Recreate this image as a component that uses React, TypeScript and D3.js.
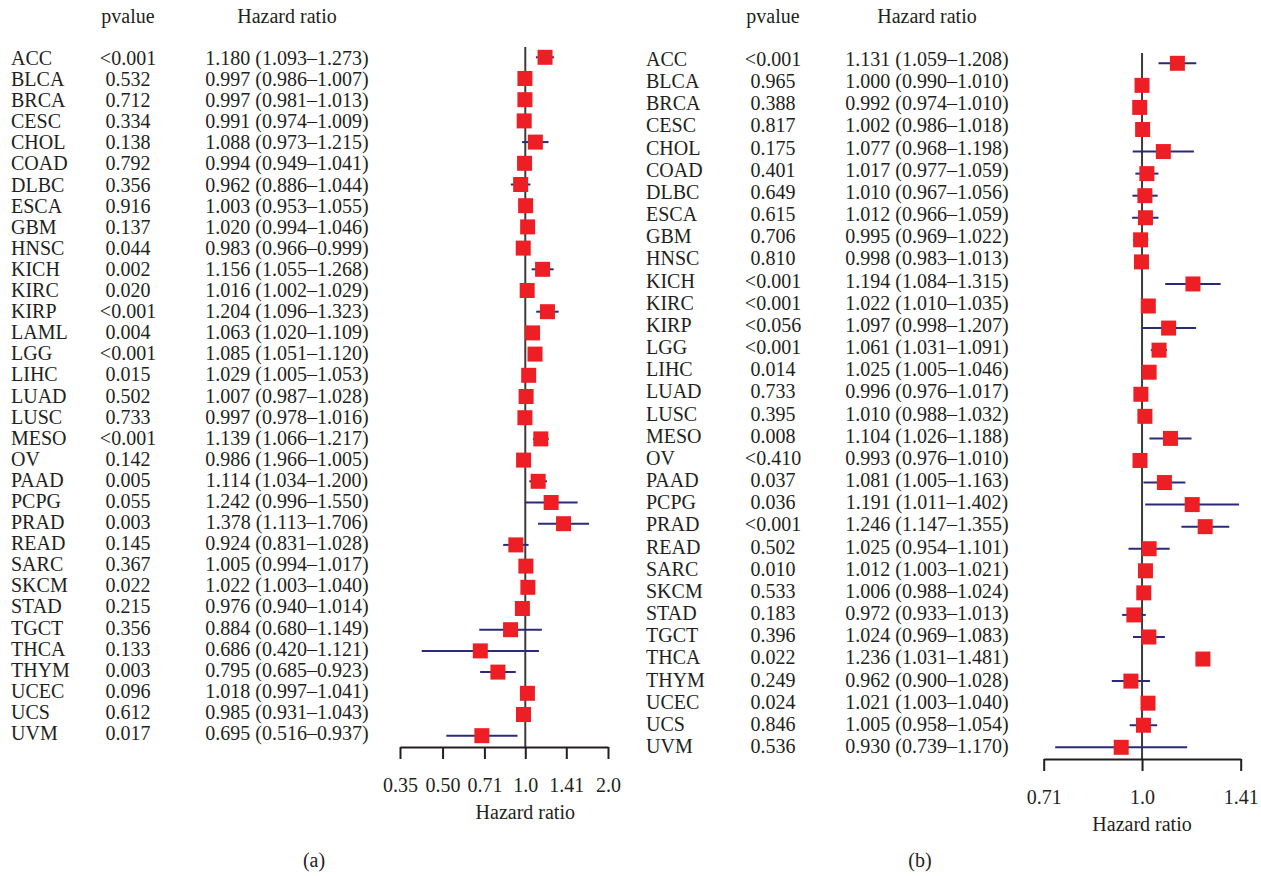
import React, { useEffect, useRef } from 'react';
import * as d3 from 'd3';

// panel (a)
const cancersA = ['ACC', 'BLCA', 'BRCA', 'CESC', 'CHOL', 'COAD', 'DLBC', 'ESCA', 'GBM', 'HNSC', 'KICH', 'KIRC', 'KIRP', 'LAML', 'LGG', 'LIHC', 'LUAD', 'LUSC', 'MESO', 'OV', 'PAAD', 'PCPG', 'PRAD', 'READ', 'SARC', 'SKCM', 'STAD', 'TGCT', 'THCA', 'THYM', 'UCEC', 'UCS', 'UVM'];
const pvaluesA = ['<0.001', '0.532', '0.712', '0.334', '0.138', '0.792', '0.356', '0.916', '0.137', '0.044', '0.002', '0.020', '<0.001', '0.004', '<0.001', '0.015', '0.502', '0.733', '<0.001', '0.142', '0.005', '0.055', '0.003', '0.145', '0.367', '0.022', '0.215', '0.356', '0.133', '0.003', '0.096', '0.612', '0.017'];
const hrA = [1.180, 0.997, 0.997, 0.991, 1.088, 0.994, 0.962, 1.003, 1.020, 0.983, 1.156, 1.016, 1.204, 1.063, 1.085, 1.029, 1.007, 0.997, 1.139, 0.986, 1.114, 1.242, 1.378, 0.924, 1.005, 1.022, 0.976, 0.884, 0.686, 0.795, 1.018, 0.985, 0.695];
const lowA = [1.093, 0.986, 0.981, 0.974, 0.973, 0.949, 0.886, 0.953, 0.994, 0.966, 1.055, 1.002, 1.096, 1.020, 1.051, 1.005, 0.987, 0.978, 1.066, 1.966, 1.034, 0.996, 1.113, 0.831, 0.994, 1.003, 0.940, 0.680, 0.420, 0.685, 0.997, 0.931, 0.516];
const highA = [1.273, 1.007, 1.013, 1.009, 1.215, 1.041, 1.044, 1.055, 1.046, 0.999, 1.268, 1.029, 1.323, 1.109, 1.120, 1.053, 1.028, 1.016, 1.217, 1.005, 1.200, 1.550, 1.706, 1.028, 1.017, 1.040, 1.014, 1.149, 1.121, 0.923, 1.041, 1.043, 0.937];
const ticksA = [0.35, 0.5, 0.71, 1.0, 1.41, 2.0];
const tickLabelsA = ['0.35', '0.50', '0.71', '1.0', '1.41', '2.0'];

// panel (b)
const cancersB = ['ACC', 'BLCA', 'BRCA', 'CESC', 'CHOL', 'COAD', 'DLBC', 'ESCA', 'GBM', 'HNSC', 'KICH', 'KIRC', 'KIRP', 'LGG', 'LIHC', 'LUAD', 'LUSC', 'MESO', 'OV', 'PAAD', 'PCPG', 'PRAD', 'READ', 'SARC', 'SKCM', 'STAD', 'TGCT', 'THCA', 'THYM', 'UCEC', 'UCS', 'UVM'];
const pvaluesB = ['<0.001', '0.965', '0.388', '0.817', '0.175', '0.401', '0.649', '0.615', '0.706', '0.810', '<0.001', '<0.001', '<0.056', '<0.001', '0.014', '0.733', '0.395', '0.008', '<0.410', '0.037', '0.036', '<0.001', '0.502', '0.010', '0.533', '0.183', '0.396', '0.022', '0.249', '0.024', '0.846', '0.536'];
const hrB = [1.131, 1.000, 0.992, 1.002, 1.077, 1.017, 1.010, 1.012, 0.995, 0.998, 1.194, 1.022, 1.097, 1.061, 1.025, 0.996, 1.010, 1.104, 0.993, 1.081, 1.191, 1.246, 1.025, 1.012, 1.006, 0.972, 1.024, 1.236, 0.962, 1.021, 1.005, 0.930];
const lowB = [1.059, 0.990, 0.974, 0.986, 0.968, 0.977, 0.967, 0.966, 0.969, 0.983, 1.084, 1.010, 0.998, 1.031, 1.005, 0.976, 0.988, 1.026, 0.976, 1.005, 1.011, 1.147, 0.954, 1.003, 0.988, 0.933, 0.969, 1.031, 0.900, 1.003, 0.958, 0.739];
const highB = [1.208, 1.010, 1.010, 1.018, 1.198, 1.059, 1.056, 1.059, 1.022, 1.013, 1.315, 1.035, 1.207, 1.091, 1.046, 1.017, 1.032, 1.188, 1.010, 1.163, 1.402, 1.355, 1.101, 1.021, 1.024, 1.013, 1.083, 1.481, 1.028, 1.040, 1.054, 1.170];
const ticksB = [0.71, 1.0, 1.41];
const tickLabelsB = ['0.71', '1.0', '1.41'];

const FONT = '"Liberation Serif", "Times New Roman", serif';
const TEXT = '#231f20';

function drawPanel(svg, p) {
    const g = svg.append('g');
    const n = p.cancers.length;

    const x = d3.scaleLog().base(2).domain(p.domain).range(p.range);
    const yMark = d3.scalePoint().domain(d3.range(n)).range(p.markY);
    const yText = d3.scalePoint().domain(d3.range(n)).range(p.textY);

    // headers
    g.append('text').attr('x', p.pX).attr('y', 23).attr('text-anchor', 'middle').text('pvalue');
    g.append('text').attr('x', p.hrX).attr('y', 23).attr('text-anchor', 'middle').text('Hazard ratio');

    const rows = g.selectAll('g.row').data(d3.range(n)).enter().append('g').attr('class', 'row');
    rows.append('text').attr('x', p.labelX).attr('y', i => yText(i)).text(i => p.cancers[i]);
    rows.append('text').attr('x', p.pX).attr('y', i => yText(i)).attr('text-anchor', 'middle').text(i => p.pvalues[i]);
    rows.append('text').attr('x', p.hrX).attr('y', i => yText(i)).attr('text-anchor', 'middle')
        .text(i => p.hr[i].toFixed(3) + ' (' + p.low[i].toFixed(3) + '\u2013' + p.high[i].toFixed(3) + ')');

    // reference line at HR = 1
    g.append('line')
        .attr('x1', x(1)).attr('x2', x(1))
        .attr('y1', p.refTop).attr('y2', p.axisY)
        .attr('stroke', '#3c3c3c').attr('stroke-width', 2);

    // confidence intervals (skipped when outside the axis or inverted, as in the original)
    const ok = i => p.low[i] < p.high[i] && p.low[i] >= p.domain[0] && p.high[i] <= p.domain[1];
    g.selectAll('line.ci').data(d3.range(n).filter(ok)).enter().append('line')
        .attr('class', 'ci')
        .attr('x1', i => x(p.low[i])).attr('x2', i => x(p.high[i]))
        .attr('y1', i => yMark(i)).attr('y2', i => yMark(i))
        .attr('stroke', '#2a2a7c').attr('stroke-width', 2);

    const s = 15;
    g.selectAll('rect.hr').data(d3.range(n)).enter().append('rect')
        .attr('class', 'hr')
        .attr('x', i => x(p.hr[i]) - s / 2).attr('y', i => yMark(i) - s / 2)
        .attr('width', s).attr('height', s)
        .attr('fill', '#ee1f24');

    const axis = d3.axisBottom(x)
        .tickValues(p.ticks)
        .tickSize(12)
        .tickSizeOuter(0)
        .tickFormat((d, i) => p.tickLabels[i]);

    const ax = g.append('g').attr('transform', 'translate(0,' + p.axisY + ')').call(axis);
    ax.select('.domain').attr('stroke', '#231f20').attr('stroke-width', 2);
    ax.selectAll('.tick line').attr('stroke', '#231f20').attr('stroke-width', 2);
    ax.selectAll('.tick text')
        .attr('y', 45).attr('dy', 0)
        .attr('fill', TEXT)
        .style('font-family', FONT).style('font-size', '20px');

    g.append('text').attr('x', x(1)).attr('y', p.axisY + p.titleOffset).attr('text-anchor', 'middle').text('Hazard ratio');
    g.append('text').attr('x', p.captionX).attr('y', 867).attr('text-anchor', 'middle').text(p.caption);
}

export default function App() {
    const ref = useRef(null);

    useEffect(() => {
        const svg = d3.select(ref.current);
        svg.selectAll('*').remove();
        svg.style('font-family', FONT).style('font-size', '20px').attr('fill', TEXT);

        drawPanel(svg, {
            cancers: cancersA, pvalues: pvaluesA, hr: hrA, low: lowA, high: highA,
            ticks: ticksA, tickLabels: tickLabelsA,
            domain: [0.35, 2.0], range: [400, 608],
            markY: [57.3, 735.7], textY: [65, 740],
            labelX: 11, pX: 128, hrX: 287,
            refTop: 47, axisY: 747, titleOffset: 72,
            captionX: 314, caption: '(a)'
        });

        drawPanel(svg, {
            cancers: cancersB, pvalues: pvaluesB, hr: hrB, low: lowB, high: highB,
            ticks: ticksB, tickLabels: tickLabelsB,
            domain: [0.71, 1.41], range: [1043.7, 1240.7],
            markY: [63.3, 747.3], textY: [66, 753],
            labelX: 646, pX: 773, hrX: 927,
            refTop: 53, axisY: 759, titleOffset: 72,
            captionX: 920, caption: '(b)'
        });
    }, []);

    return (
        <svg ref={ref} width={1261} height={876}
            style={{ position: 'absolute', left: 0, top: 0, background: '#ffffff' }}></svg>
    );
}
